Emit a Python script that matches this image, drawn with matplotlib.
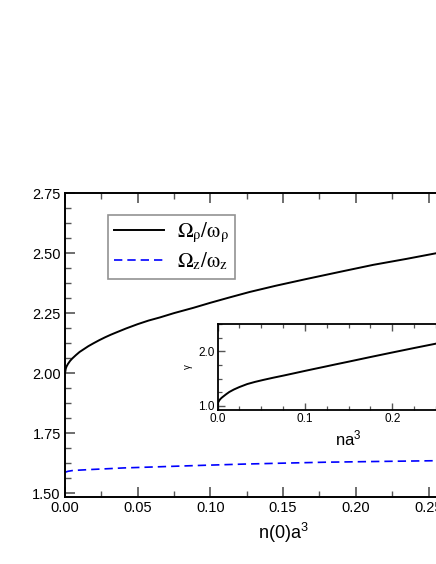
import matplotlib
matplotlib.use("Agg")
import matplotlib.pyplot as plt
from matplotlib.ticker import MultipleLocator
from matplotlib.font_manager import FontProperties

plt.rcParams['font.family'] = ['Liberation Sans', 'DejaVu Sans']
plt.rcParams['mathtext.fontset'] = 'custom'
plt.rcParams['mathtext.rm'] = 'Liberation Sans'
plt.rcParams['mathtext.it'] = 'Liberation Sans'

# main panel: frequency ratios vs n(0)a^3
x_rho = [0, 0.0005, 0.001, 0.002, 0.0035, 0.005, 0.0075, 0.01, 0.013, 0.016,
         0.0195, 0.0235, 0.0275, 0.0315, 0.0355, 0.042, 0.05, 0.0575, 0.0653,
         0.075, 0.0883, 0.1, 0.113, 0.127, 0.145, 0.166, 0.19, 0.212, 0.235,
         0.255, 0.28, 0.30]
omega_rho = [2.0, 2.019, 2.028, 2.039, 2.052, 2.062, 2.076, 2.089, 2.101, 2.113,
             2.125, 2.138, 2.150, 2.161, 2.171, 2.187, 2.205, 2.220, 2.233,
             2.251, 2.273, 2.294, 2.316, 2.339, 2.365, 2.393, 2.424, 2.452, 2.477,
             2.500, 2.527, 2.548]

x_z = [0, 0.0005, 0.002, 0.005, 0.01, 0.0195, 0.03, 0.04, 0.0653, 0.09, 0.1225,
       0.15, 0.18, 0.215, 0.253, 0.30]
omega_z = [1.586, 1.589, 1.592, 1.595, 1.597, 1.600, 1.603, 1.606, 1.611, 1.616,
           1.622, 1.626, 1.630, 1.633, 1.636, 1.640]

# inset: gamma vs na^3
x_gamma = [0, 0.0005, 0.001, 0.002, 0.0035, 0.0052, 0.0072, 0.01, 0.0135, 0.0187,
           0.025, 0.034, 0.043, 0.053, 0.064, 0.076, 0.0875, 0.0989, 0.11, 0.121,
           0.135, 0.15, 0.175, 0.2, 0.225, 0.25, 0.275, 0.3]
gamma = [1.03, 1.055, 1.07, 1.10, 1.13, 1.155, 1.18, 1.215, 1.255, 1.30,
         1.345, 1.40, 1.44, 1.478, 1.517, 1.557, 1.597, 1.637, 1.675, 1.712,
         1.76, 1.81, 1.895, 1.978, 2.06, 2.14, 2.215, 2.29]

W, H = 436, 564
fig = plt.figure(figsize=(W / 100, H / 100), dpi=100)

# main axes runs past the right edge of the figure, like the original
ax = fig.add_axes([65 / W, 1 - 497 / H, 436.2 / W, 303.7 / H])
ax.plot(x_rho, omega_rho, color='black', lw=1.4,
        label=r'$\Omega_{\mathrm{\rho}}/\mathrm{\omega}_{\mathrm{\rho}}$')
ax.plot(x_z, omega_z, color='#0000ff', lw=1.2, dashes=(5, 3),
        label=r'$\Omega_{\mathrm{z}}/\mathrm{\omega}_{\mathrm{z}}$')
ax.set_xlim(0, 0.3)
ax.set_ylim(1.485, 2.75)
ax.xaxis.set_major_locator(MultipleLocator(0.05))
ax.xaxis.set_minor_locator(MultipleLocator(0.025))
ax.yaxis.set_major_locator(MultipleLocator(0.25))
ax.yaxis.set_minor_locator(MultipleLocator(0.0625))
ax.xaxis.set_major_formatter(plt.FormatStrFormatter('%.2f'))
ax.yaxis.set_major_formatter(plt.FormatStrFormatter('%.2f'))
ax.tick_params(which='both', direction='in', top=True, right=True,
               color='#555555', labelsize=10.5, pad=3)
ax.tick_params(which='major', length=7, width=1.2)
ax.tick_params(which='minor', length=4, width=1.0)
for s in ax.spines.values():
    s.set_linewidth(1.4)
ax.set_xlabel(r'n(0)a$^{3}$', fontsize=13, labelpad=4)

leg = ax.legend(loc='upper left', bbox_to_anchor=(108 / W, 1 - 215 / H),
                bbox_transform=fig.transFigure, borderaxespad=0,
                prop=FontProperties(size=15, math_fontfamily='stix'),
                handlelength=2.4, handletextpad=0.6,
                labelspacing=0.25, borderpad=0.3, fancybox=False,
                frameon=True)
leg.get_frame().set_edgecolor('#777777')
leg.get_frame().set_linewidth(1.2)

# inset
axi = fig.add_axes([217.5 / W, 1 - 410 / H, 262.1 / W, 86 / H])
axi.plot(x_gamma, gamma, color='black', lw=1.4)
axi.set_xlim(0, 0.3)
axi.set_ylim(0.925, 2.5)
axi.xaxis.set_major_locator(MultipleLocator(0.1))
axi.xaxis.set_minor_locator(MultipleLocator(0.025))
axi.yaxis.set_major_locator(MultipleLocator(1.0))
axi.yaxis.set_minor_locator(MultipleLocator(0.25))
axi.xaxis.set_major_formatter(plt.FormatStrFormatter('%.1f'))
axi.yaxis.set_major_formatter(plt.FormatStrFormatter('%.1f'))
axi.tick_params(which='both', direction='in', top=True, right=True,
                color='#555555', labelsize=8.5, pad=2)
axi.tick_params(which='major', length=5, width=1.0)
axi.tick_params(which='minor', length=3, width=0.9)
for s in axi.spines.values():
    s.set_linewidth(1.3)
axi.set_xlabel(r'na$^{3}$', fontsize=12, labelpad=3)
axi.set_ylabel(r'$\gamma$', fontsize=7, labelpad=2)

fig.savefig('out.png', dpi=100)
